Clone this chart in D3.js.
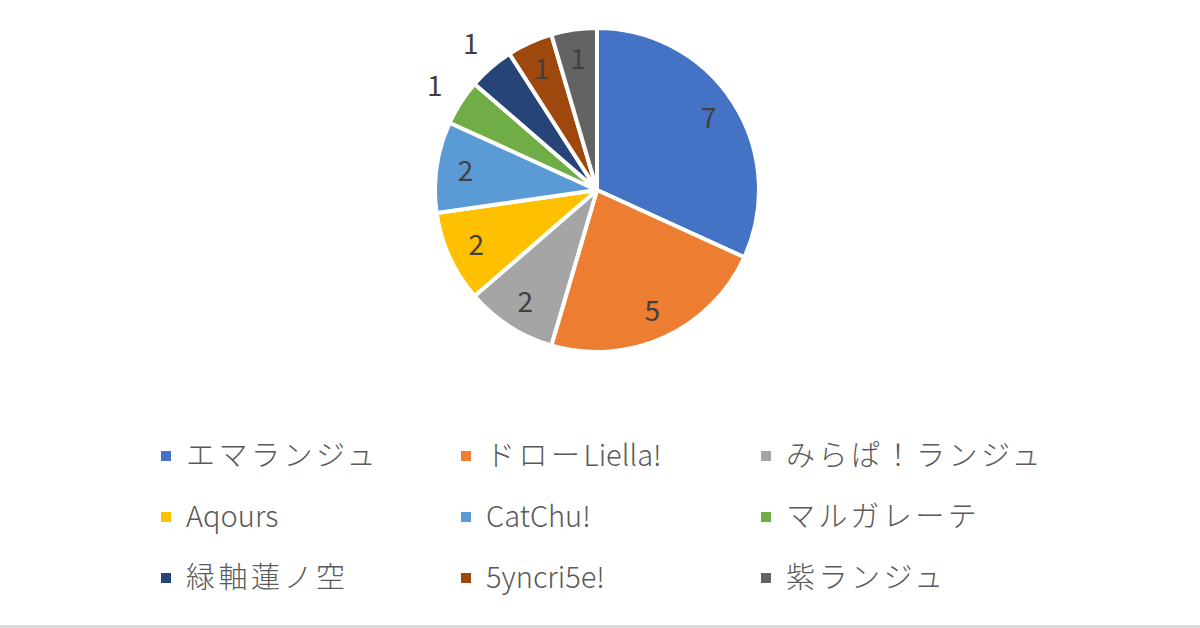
<!DOCTYPE html>
<html>
<head>
<meta charset="utf-8">
<script src="https://cdn.jsdelivr.net/npm/d3@7"></script>
<style>
  html, body { margin: 0; padding: 0; background: #fff; }
  svg { display: block; }
</style>
</head>
<body>
<svg width="1200" height="628"></svg>
<script>
// groups and how many of each
const groups = ["エマランジュ", "ドローLiella!", "みらぱ！ランジュ", "Aqours", "CatChu!", "マルガレーテ", "緑軸蓮ノ空", "5yncri5e!", "紫ランジュ"];
const counts = [7, 5, 2, 2, 2, 1, 1, 1, 1];
const colors = ["#4472c4", "#ed7d31", "#a5a5a5", "#ffc000", "#5b9bd5", "#70ad47", "#264478", "#9e480e", "#636363"];
// label goes outside for these (Excel best fit)
const outside = [false, false, false, false, false, true, true, false, false];

const width = 1200, height = 628;
const cx = 597, cy = 190, radius = 162;

let svg = d3.select("svg");

let data = groups.map((g, i) => ({ name: g, value: counts[i], color: colors[i], out: outside[i] }));

let pie = d3.pie().sort(null).value(d => d.value);
let arc = d3.arc().innerRadius(0).outerRadius(radius);
let labelArc = d3.arc().innerRadius(radius * 0.82).outerRadius(radius * 0.82);
let outArc = d3.arc().innerRadius(radius * 1.19).outerRadius(radius * 1.19);

let chart = svg.append("g")
    .attr("transform", `translate(${cx}, ${cy})`);

let arcs = pie(data);

chart.selectAll("path")
    .data(arcs)
    .enter()
    .append("path")
    .attr("d", arc)
    .attr("fill", d => d.data.color)
    .attr("stroke", "#fff")
    .attr("stroke-width", 4)
    .attr("stroke-linejoin", "round");

chart.selectAll("text.val")
    .data(arcs)
    .enter()
    .append("text")
    .attr("class", "val")
    .attr("transform", d => `translate(${(d.data.out ? outArc : labelArc).centroid(d)})`)
    .attr("text-anchor", "middle")
    .attr("dy", "0.36em")
    .attr("font-family", "'Noto Sans CJK JP', 'Noto Sans', sans-serif")
    .attr("font-weight", 400)
    .attr("font-size", "28px")
    .attr("fill", "#404040")
    .text(d => d.data.value);

// legend, 3 columns
let legend = svg.append("g");
let colX = d3.scaleOrdinal().domain([0, 1, 2]).range([161, 461, 761]);
let rowY = d3.scaleOrdinal().domain([0, 1, 2]).range([456, 517, 578]);

let items = legend.selectAll("g")
    .data(data)
    .enter()
    .append("g")
    .attr("transform", (d, i) => `translate(${colX(i % 3)}, ${rowY(Math.floor(i / 3))})`);

items.append("rect")
    .attr("x", 0)
    .attr("y", -5)
    .attr("width", 10)
    .attr("height", 10)
    .attr("fill", d => d.color);

// japanese glyphs are set wider than the latin ones in the original
const cjk = /[\u3000-\u30ff\u4e00-\u9fff\uff00-\uffef]+/g;
function runs(s) {
    let out = [], last = 0, m;
    while ((m = cjk.exec(s)) !== null) {
        if (m.index > last) out.push({ t: s.slice(last, m.index), wide: false });
        out.push({ t: m[0], wide: true });
        last = m.index + m[0].length;
    }
    if (last < s.length) out.push({ t: s.slice(last), wide: false });
    return out;
}

let labels = items.append("text")
    .attr("x", 25)
    .attr("dy", "0.36em")
    .attr("font-family", "'Noto Sans CJK JP', 'Noto Sans', sans-serif")
    .attr("font-weight", 300)
    .attr("font-size", "29px")
    .attr("fill", "#595959");

labels.selectAll("tspan")
    .data(d => runs(d.name))
    .enter()
    .append("tspan")
    .attr("letter-spacing", d => d.wide ? 3.5 : 0)
    .text(d => d.t);

// thin grey rule at the very bottom
svg.append("rect")
    .attr("x", 0)
    .attr("y", 625)
    .attr("width", width)
    .attr("height", 3)
    .attr("fill", "#dcdcdc");
</script>
</body>
</html>
